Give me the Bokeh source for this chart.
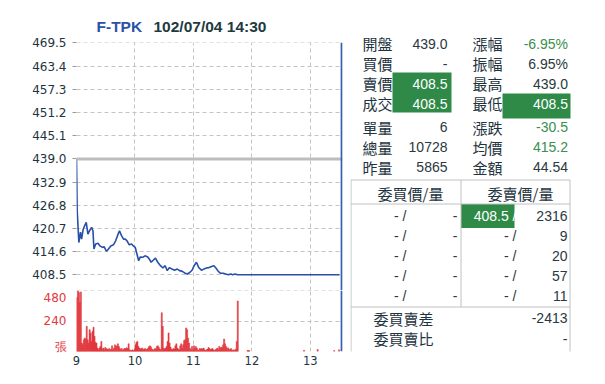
from bokeh.plotting import figure
from bokeh.layouts import row, column
from bokeh.models import Range1d, FixedTicker, Span, NumeralTickFormatter, Grid
from bokeh.core.properties import value
from bokeh.embed import file_html
from bokeh.resources import INLINE

# ---------------- data ----------------
title_code = "F-TPK"
title_time = "102/07/04 14:30"
price_ticks = [408.5, 414.6, 420.7, 426.8, 432.9, 439.0, 445.1, 451.2, 457.3, 463.4, 469.5]
ref_price = 439.0
x_ticks = [9, 10, 11, 12, 13]
session_start = 9.0
session_end = 13.5
vol_grid = [0, 240, 480]
vol_label_pos = [34, 240, 443]
vol_labels = {34: "張", 240: "240", 443: "480"}

# minutes after 09:00, price
price_min = [0, 0.7, 2.4, 4.1, 5.2, 6.9, 8.3, 10.0, 11.7, 13.4, 15.5, 16.9, 17.9, 19.7, 22.1,
             24.1, 26.6, 28.3, 30.7, 32.8, 35.2, 37.9, 40.3, 42.1, 44.1, 46.2, 48.3, 50.0,
             51.7, 54.1, 56.6, 58.3, 60.3, 62.1, 63.8, 65.5, 67.9, 70.3, 73.1, 74.8, 76.6,
             79.0, 81.0, 83.4, 86.2, 88.6, 91.0, 93.1, 95.5, 97.9, 100.7, 103.4, 105.9,
             108.6, 111.0, 113.8, 116.2, 118.6, 120.7, 123.1, 125.5, 128.3, 130.7, 133.4,
             135.9, 138.6, 141.0, 143.1, 145.5, 147.9, 150.7, 153.1, 155.9, 158.3, 160.3,
             162.8, 165.2, 270]
price_val = [439.0, 425.4, 417.0, 419.7, 417.9, 420.5, 421.4, 422.3, 419.2, 420.1, 421.0, 420.1,
             415.3, 416.6, 416.8, 416.1, 415.7, 415.9, 414.7, 415.3, 416.1, 416.4, 417.5,
             418.8, 420.1, 418.8, 417.9, 417.9, 417.5, 416.4, 416.6, 416.1, 415.7, 413.9,
             412.2, 413.2, 413.1, 413.5, 413.2, 412.6, 411.8, 412.4, 412.9, 411.8, 410.9,
             410.3, 410.9, 409.6, 410.4, 410.0, 409.7, 410.0, 409.6, 409.4, 409.0, 408.7,
             409.1, 409.7, 410.9, 411.8, 410.4, 409.7, 410.0, 410.3, 410.4, 410.7, 410.9,
             410.3, 409.4, 408.9, 408.9, 408.7, 408.5, 408.7, 408.5, 408.7, 408.5, 408.5]

# per-minute volume from 09:00
vol = [427, 480, 467, 387, 472, 67, 53, 93, 107, 99, 200, 93, 67, 173, 147, 80, 160, 192, 120, 72,
       67, 27, 13, 27, 40, 80, 19, 27, 13, 32, 24, 19, 13, 24, 13, 19, 45, 13, 27, 53,
       40, 45, 61, 40, 24, 13, 24, 8, 19, 24, 24, 29, 24, 61, 13, 8, 8, 13, 5, 13,
       53, 72, 80, 40, 27, 19, 24, 27, 13, 19, 24, 13, 19, 27, 40, 45, 35, 19, 13, 13,
       24, 19, 40, 45, 32, 19, 13, 307, 200, 27, 19, 27, 40, 80, 147, 67, 35, 19, 13, 24,
       19, 45, 61, 27, 19, 13, 45, 61, 27, 53, 88, 93, 187, 173, 107, 67, 24, 13, 40, 13,
       45, 24, 40, 27, 13, 8, 24, 19, 24, 19, 27, 13, 8, 13, 19, 32, 24, 13, 19, 24,
       13, 8, 13, 19, 27, 13, 40, 24, 35, 29, 53, 99, 61, 40, 24, 29, 19, 13, 24, 13,
       8, 13, 8, 19, 80, 400]
late_vol_min = [175, 176, 177, 233, 247, 264, 269]
late_vol = [8, 8, 6, 10, 16, 8, 14]

left_labels = ["開盤", "買價", "賣價", "成交", "單量", "總量", "昨量"]
left_values = ["439.0", "-", "408.5", "408.5", "6", "10728", "5865"]
right_labels = ["漲幅", "振幅", "最高", "最低", "漲跌", "均價", "金額"]
right_values = ["-6.95%", "6.95%", "439.0", "408.5", "-30.5", "415.2", "44.54"]

bid_price = ["-", "-", "-", "-", "-"]
bid_qty = ["-", "-", "-", "-", "-"]
ask_price = ["408.5", "-", "-", "-", "-"]
ask_qty = ["2316", "9", "20", "57", "11"]
diff_label, diff_value = "委買賣差", "-2413"
ratio_label, ratio_value = "委買賣比", "-"
bid_header, ask_header = "委買價/量", "委賣價/量"

# ---------------- style ----------------
DARK = "#1e3440"
NUM = "#2b3840"
GREEN_BG = "#2f8a48"
GREEN_TX = "#3a8f4e"
BLUE = "#2850a8"
RED = "#e0393e"
GRID = "#c4c4c4"
BORDER = "#c0c0c0"
CJK = value("Noto Sans CJK TC")
NUMF = value("Liberation Sans")

chart_end = 13.535
LW = 350  # left column width
BL, BR = 76, 8  # left / right borders of the chart frames


def hide_default_grids(p):
    p.grid.visible = False


def add_grid(p, dim, ticks):
    p.add_layout(Grid(dimension=dim, ticker=FixedTicker(ticks=ticks), grid_line_color=GRID,
                      grid_line_dash="4 3", grid_line_width=1))


# ---------------- title figure (frame aligned with chart frames, x in page px) ----------------
tf = figure(width=LW, height=34, x_range=Range1d(BL, LW - BR), y_range=Range1d(34, 0),
            output_backend="svg", toolbar_location=None, x_axis_location=None,
            y_axis_location=None, min_border_left=BL, min_border_right=BR,
            min_border_top=0, min_border_bottom=0, outline_line_color=None)
hide_default_grids(tf)
tf.text(x=[96], y=[26], text=[title_code], text_font=value("Liberation Sans"),
        text_font_size="15.5px", text_font_style="bold", text_color="#2a52a8",
        text_baseline="middle", text_align="left")
tf.text(x=[153], y=[26], text=[title_time], text_font=value("Liberation Sans"),
        text_font_size="15.5px", text_font_style="bold", text_color="#1d3a3f",
        text_baseline="middle", text_align="left")

# ---------------- price figure ----------------
pf = figure(width=LW, height=256, x_range=Range1d(session_start, 13.55),
            y_range=Range1d(404.37, 469.63), output_backend="svg", toolbar_location=None,
            x_axis_location=None, min_border_left=BL, min_border_right=BR, min_border_top=8,
            min_border_bottom=0, outline_line_color=None)
hide_default_grids(pf)
add_grid(pf, 0, x_ticks)
add_grid(pf, 1, price_ticks)
ax = pf.yaxis[0]
ax.ticker = FixedTicker(ticks=price_ticks)
ax.formatter = NumeralTickFormatter(format="0.0")
ax.axis_line_color = None
ax.major_tick_line_color = "#9a9a9a"
ax.major_tick_out = 4
ax.major_tick_in = 0
ax.minor_tick_line_color = None
ax.minor_tick_out = 0
ax.major_label_standoff = 6
ax.major_label_text_font = "DejaVu Sans"
ax.major_label_text_font_size = "12px"
ax.major_label_text_color = DARK

pf.add_layout(Span(location=ref_price, dimension="width", line_color="#bdbdbd", line_width=3))
px = [session_start + m / 60 for m in price_min]
pf.line(px, price_val, line_color=BLUE, line_width=1.6)
pf.add_layout(Span(location=chart_end, dimension="height", line_color="#3560b0", line_width=2))

# ---------------- volume figure ----------------
vf = figure(width=LW, height=90, x_range=pf.x_range, y_range=Range1d(0, 483),
            output_backend="svg", toolbar_location=None, min_border_left=BL,
            min_border_right=BR, min_border_top=0, min_border_bottom=29,
            outline_line_color=None)
hide_default_grids(vf)
add_grid(vf, 0, x_ticks)
add_grid(vf, 1, vol_grid)
vx = [session_start + (i + 0.5) / 60 for i in range(len(vol))]
vf.vbar(x=vx, top=vol, width=1.15 / 60, fill_color=RED, line_color=RED, line_width=0.5)
lx = [session_start + (m + 0.5) / 60 for m in late_vol_min]
vf.vbar(x=lx, top=late_vol, width=1.15 / 60, fill_color=RED, line_color=RED, line_width=0.5)
vf.add_layout(Span(location=chart_end, dimension="height", line_color="#3560b0", line_width=2))

vy = vf.yaxis[0]
vy.ticker = FixedTicker(ticks=vol_label_pos)
vy.major_label_overrides = vol_labels
vy.axis_line_color = None
vy.major_tick_line_color = None
vy.major_tick_out = 0
vy.major_tick_in = 0
vy.minor_tick_line_color = None
vy.minor_tick_out = 0
vy.major_label_standoff = 10
vy.major_label_text_font = "DejaVu Sans"
vy.major_label_text_font_size = "12px"
vy.major_label_text_color = RED

vxa = vf.xaxis[0]
vxa.ticker = FixedTicker(ticks=x_ticks)
vxa.axis_line_color = None
vxa.major_tick_line_color = None
vxa.major_tick_out = 0
vxa.major_tick_in = 0
vxa.minor_tick_line_color = None
vxa.minor_tick_out = 0
vxa.major_label_standoff = 4
vxa.major_label_text_font = "DejaVu Sans"
vxa.major_label_text_font_size = "11.5px"
vxa.major_label_text_color = DARK

# ---------------- table figure ----------------
TW, TH = 250, 380
tb = figure(width=TW, height=TH, x_range=Range1d(0, TW), y_range=Range1d(TH, 0),
            output_backend="svg", toolbar_location=None, x_axis_location=None,
            y_axis_location=None, min_border=0, outline_line_color=None)
hide_default_grids(tb)

row_y = [43, 63, 83, 103, 126.5, 146.5, 166.5]
# green cells
tb.quad(left=[42, 152], right=[101, 220], top=[72, 93], bottom=[112, 118],
        fill_color=GREEN_BG, line_color=None)
tb.quad(left=[110.5], right=[164], top=[203.5], bottom=[227.5], fill_color=GREEN_BG, line_color=None)

tb.text(x=[12] * 7, y=row_y, text=left_labels, text_font=CJK, text_font_size="15px",
        text_color=DARK, text_baseline="middle", text_align="left")
tb.text(x=[122] * 7, y=row_y, text=right_labels, text_font=CJK, text_font_size="15px",
        text_color=DARK, text_baseline="middle", text_align="left")

lcol = [NUM, NUM, "white", "white", NUM, NUM, NUM]
rcol = [GREEN_TX, NUM, NUM, "white", GREEN_TX, GREEN_TX, NUM]
tb.text(x=[97] * 7, y=row_y, text=left_values, text_font=NUMF, text_font_size="14px",
        text_color=lcol, text_baseline="middle", text_align="right")
tb.text(x=[217.5] * 7, y=row_y, text=right_values, text_font=NUMF, text_font_size="14px",
        text_color=rcol, text_baseline="middle", text_align="right")

# order book box lines
tb.segment(x0=[0.5, 0, 0, 110.5, 0.5, 219.5], y0=[179.5, 203.5, 306.5, 179.5, 179.5, 179.5],
           x1=[219.5, 219.5, 219.5, 110.5, 0.5, 219.5], y1=[179.5, 203.5, 306.5, 306.5, 351, 351],
           line_color=BORDER, line_width=1)

tb.text(x=[60, 170], y=[192.7, 192.7], text=[bid_header, ask_header], text_font=CJK,
        text_font_size="15px", text_color=DARK, text_baseline="middle", text_align="center")

ob_y = [215, 235, 255, 275, 295.5]
tb.text(x=[56] * 5, y=ob_y, text=[p + " /" for p in bid_price], text_font=NUMF,
        text_font_size="14px", text_color=NUM, text_baseline="middle", text_align="right")
tb.text(x=[107] * 5, y=ob_y, text=bid_qty, text_font=NUMF,
        text_font_size="14px", text_color=NUM, text_baseline="middle", text_align="right")
acol = ["white" if p != "-" else NUM for p in ask_price]
tb.text(x=[166] * 5, y=ob_y, text=[p + " /" for p in ask_price], text_font=NUMF,
        text_font_size="14px", text_color=acol, text_baseline="middle", text_align="right")
tb.text(x=[217] * 5, y=ob_y, text=ask_qty, text_font=NUMF,
        text_font_size="14px", text_color=NUM, text_baseline="middle", text_align="right")

tb.text(x=[23, 23], y=[317.7, 338], text=[diff_label, ratio_label], text_font=CJK,
        text_font_size="15px", text_color=DARK, text_baseline="middle", text_align="left")
tb.text(x=[217, 217], y=[317.7, 338], text=[diff_value, ratio_value], text_font=NUMF,
        text_font_size="14px", text_color=NUM, text_baseline="middle", text_align="right")

layout = row(column(tf, pf, vf), tb)
open("out.html", "w").write(file_html(layout, INLINE))
